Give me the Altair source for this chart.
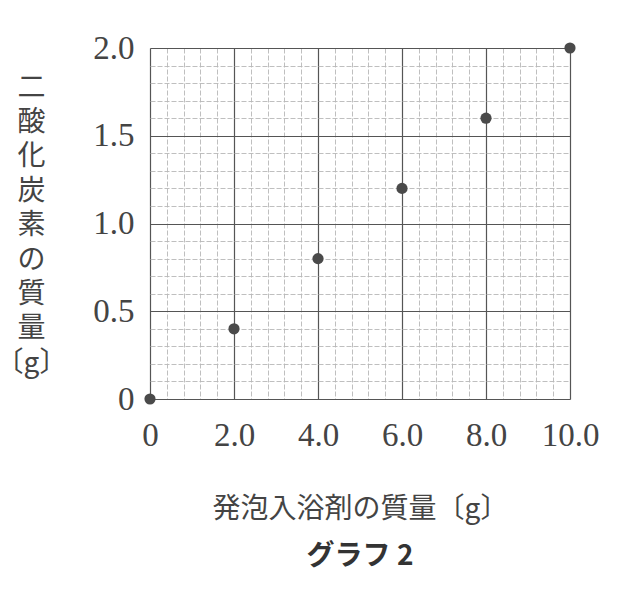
import altair as alt
import pandas as pd

# data
bath_mass = [0, 2.0, 4.0, 6.0, 8.0, 10.0]          # 発泡入浴剤の質量 [g]
co2_mass = [0, 0.4, 0.8, 1.2, 1.6, 2.0]            # 二酸化炭素の質量 [g]

# grid / tick values
x_ticks = [0, 0.4, 0.8, 1.2, 1.6, 2.0, 2.4, 2.8, 3.2, 3.6, 4.0, 4.4, 4.8, 5.2, 5.6,
           6.0, 6.4, 6.8, 7.2, 7.6, 8.0, 8.4, 8.8, 9.2, 9.6, 10.0]
y_ticks = [0, 0.1, 0.2, 0.3, 0.4, 0.5, 0.6, 0.7, 0.8, 0.9, 1.0, 1.1, 1.2, 1.3, 1.4,
           1.5, 1.6, 1.7, 1.8, 1.9, 2.0]

df = pd.DataFrame({"x": bath_mass, "y": co2_mass})

x_major = "abs(datum.value/2 - round(datum.value/2)) < 0.001"
y_major = "abs(datum.value*2 - round(datum.value*2)) < 0.001"

def lab(test):
    return f"({test}) ? (datum.value == 0 ? '0' : format(datum.value, '.1f')) : ''"

serif = "Liberation Serif"
jp = "Noto Sans CJK JP"

x_axis = alt.Axis(
    values=x_ticks,
    grid=True,
    gridColor={"condition": {"test": x_major, "value": "#555555"}, "value": "#b8b8b8"},
    gridDash={"condition": {"test": x_major, "value": []}, "value": [5, 2]},
    gridWidth={"condition": {"test": x_major, "value": 1.2}, "value": 0.9},
    ticks=False,
    domain=False,
    labelExpr=lab(x_major),
    labelFont=serif,
    labelFontSize=33,
    labelColor="#444444",
    labelPadding=20,
    labelFlush=False,
    labelOverlap=False,
    title="発泡入浴剤の質量〔g〕",
    titleFont=jp,
    titleFontSize=28,
    titleFontWeight="normal",
    titleColor="#444444",
    titleBaseline="middle",
    titleY=110,
)

y_axis = alt.Axis(
    values=y_ticks,
    grid=True,
    gridColor={"condition": {"test": y_major, "value": "#555555"}, "value": "#b8b8b8"},
    gridDash={"condition": {"test": y_major, "value": []}, "value": [5, 2]},
    gridWidth={"condition": {"test": y_major, "value": 1.2}, "value": 0.9},
    ticks=False,
    domain=False,
    labelExpr=lab(y_major),
    labelFont=serif,
    labelFontSize=33,
    labelColor="#444444",
    labelPadding=16,
    labelFlush=False,
    labelOverlap=False,
    labelBaseline="middle",
    title=["二", "酸", "化", "炭", "素", "の", "質", "量", "〔g〕"],
    titleFont=jp,
    titleFontSize=28,
    titleFontWeight="normal",
    titleColor="#444444",
    titleAngle=0,
    titleAlign="center",
    titleBaseline="middle",
    titleLineHeight=34.4,
    titleX=-119,
    titleY=40,
)

chart = alt.Chart(df).mark_circle(size=125, color="#4a4a4a", opacity=1).encode(
    x=alt.X("x:Q", scale=alt.Scale(domain=[0, 10], nice=False, zero=False), axis=x_axis),
    y=alt.Y("y:Q", scale=alt.Scale(domain=[0, 2], nice=False, zero=False), axis=y_axis),
).properties(
    width=420,
    height=351,
    autosize=alt.AutoSizeParams(type="none"),
    padding={"left": 142, "top": 40, "right": 62, "bottom": 200},
    title=alt.TitleParams(
        text="グラフ 2",
        orient="bottom",
        anchor="middle",
        font=jp,
        fontSize=28,
        fontWeight="bold",
        color="#333333",
        offset=20,
    ),
).configure_view(stroke="#555555", strokeWidth=1.4).configure(background="white")

chart.save("out.html", embed_options={"renderer": "svg", "actions": False})
